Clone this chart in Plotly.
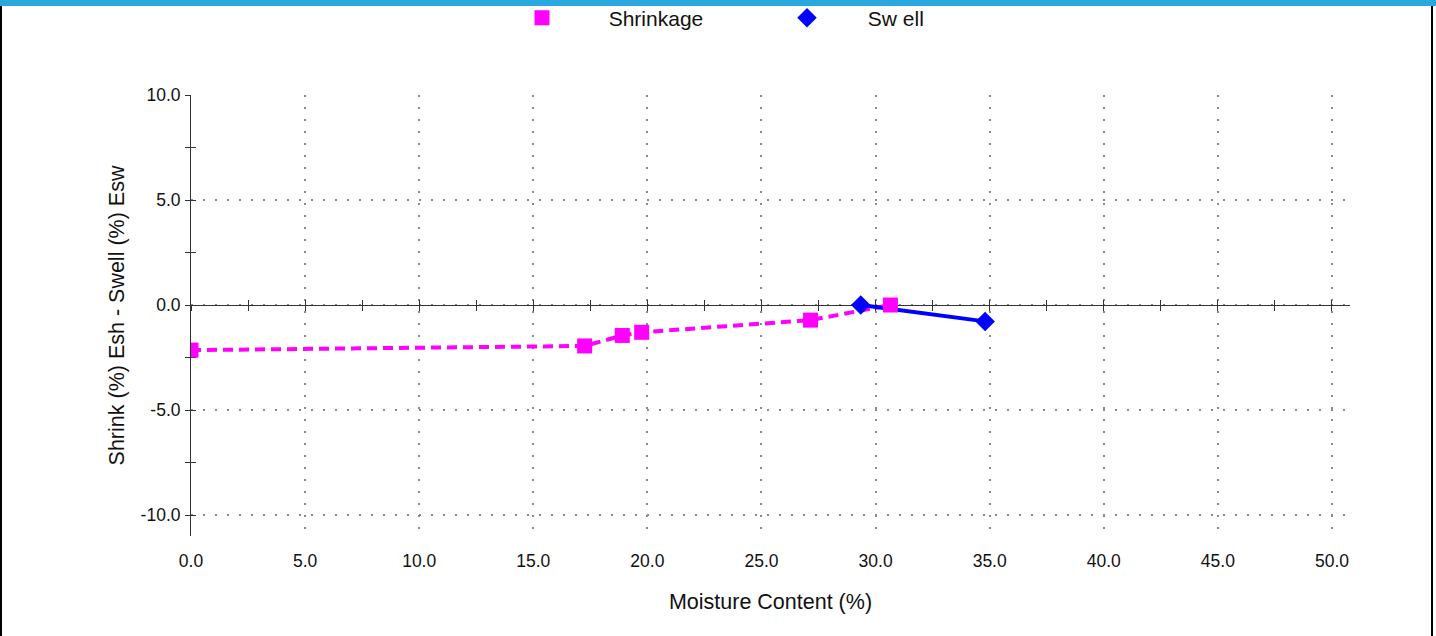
import plotly.graph_objects as go

# ---- data ----
shrink_x = [0.0, 17.25, 18.9, 19.75, 27.15, 30.65]
shrink_y = [-2.15, -1.95, -1.45, -1.3, -0.72, 0.0]
swell_x = [29.35, 34.8]
swell_y = [0.0, -0.78]
x_ticks = [0, 5, 10, 15, 20, 25, 30, 35, 40, 45, 50]
y_ticks = [-10, -5, 0, 5, 10]
series_names = ["        Shrinkage", "       Sw ell"]

X_RANGE = [0, 50.79]
Y_RANGE = [-11, 10]

MAGENTA = "#FF00FF"
BLUE = "#0000FF"
AXIS = "#333333"
GRID = "#8a8a8a"
TXT = "#111111"
FONT = "Liberation Sans, Arial, sans-serif"

W, H = 1436, 636
L, R, T, B = 191, 86, 95, 100
PW, PH = W - L - R, H - T - B


def px_x(p):
    return (p - L) / PW


def px_y(p):
    return (H - B - p) / PH


fig = go.Figure()

# lines first
fig.add_trace(go.Scatter(x=shrink_x, y=shrink_y, mode="lines",
                         line=dict(color=MAGENTA, width=4, dash="10px,6px"),
                         showlegend=False, hoverinfo="skip"))
fig.add_trace(go.Scatter(x=swell_x, y=swell_y, mode="lines",
                         line=dict(color=BLUE, width=4),
                         showlegend=False, hoverinfo="skip"))
# markers on top
fig.add_trace(go.Scatter(x=shrink_x, y=shrink_y, mode="markers", name=series_names[0],
                         marker=dict(symbol="square", size=15, color=MAGENTA)))
fig.add_trace(go.Scatter(x=swell_x, y=swell_y, mode="markers", name=series_names[1],
                         marker=dict(symbol="diamond", size=15, color=BLUE)))

# dummy traces to bind overlay axes
fig.add_trace(go.Scatter(x=[None], y=[None], xaxis="x2", yaxis="y", showlegend=False, hoverinfo="skip"))
fig.add_trace(go.Scatter(x=[None], y=[None], xaxis="x3", yaxis="y", showlegend=False, hoverinfo="skip"))
fig.add_trace(go.Scatter(x=[None], y=[None], xaxis="x", yaxis="y2", showlegend=False, hoverinfo="skip"))

zero_pos = (0 - Y_RANGE[0]) / (Y_RANGE[1] - Y_RANGE[0])

fig.update_layout(
    width=W, height=H,
    margin=dict(l=L, r=R, t=T, b=B),
    paper_bgcolor="white", plot_bgcolor="white",
    font=dict(family=FONT, color=TXT),
    showlegend=True,
    legend=dict(orientation="h", x=px_x(522), xref="paper", xanchor="left",
                y=1 - 18 / H, yref="container", yanchor="middle",
                font=dict(family=FONT, size=21, color=TXT),
                bgcolor="rgba(0,0,0,0)", entrywidth=220, entrywidthmode="pixels"),
    xaxis=dict(range=X_RANGE, tickvals=x_ticks, ticktext=[f"{v:.1f}" for v in x_ticks],
               showline=False, ticks="", zeroline=False,
               showgrid=True, gridcolor=GRID, gridwidth=2, griddash="2px,10px",
               tickfont=dict(size=17.5, color=TXT), ticklabelstandoff=12,
               title=dict(text="Moisture Content (%)", font=dict(size=21.5, color=TXT), standoff=24),
               layer="below traces"),
    xaxis2=dict(range=X_RANGE, overlaying="x", anchor="free", position=zero_pos,
                showline=True, linecolor=AXIS, linewidth=1, ticks="outside", ticklen=5,
                tickcolor=AXIS, dtick=2.5, tick0=0, showticklabels=False, showgrid=False,
                zeroline=False, layer="below traces"),
    xaxis3=dict(range=X_RANGE, overlaying="x", anchor="free", position=zero_pos,
                showline=False, ticks="inside", ticklen=5,
                tickcolor=AXIS, dtick=2.5, tick0=0, showticklabels=False, showgrid=False,
                zeroline=False, layer="below traces"),
    yaxis=dict(range=Y_RANGE, tickvals=y_ticks, ticktext=[f"{v:.1f}" for v in y_ticks],
               showline=True, linecolor=AXIS, linewidth=1, ticks="outside", ticklen=5, tickcolor=AXIS,
               minor=dict(dtick=2.5, tick0=0, ticks="outside", ticklen=5, tickcolor=AXIS, showgrid=False),
               zeroline=False,
               showgrid=True, gridcolor=GRID, gridwidth=2, griddash="2px,10px",
               tickfont=dict(size=17.5, color=TXT), ticklabelstandoff=1,
               title=dict(text="Shrink (%) Esh - Swell (%) Esw", font=dict(size=21.5, color=TXT), standoff=10),
               layer="below traces"),
    yaxis2=dict(range=Y_RANGE, overlaying="y", anchor="x", side="left",
                showline=False, ticks="inside", ticklen=5, tickcolor=AXIS, dtick=2.5, tick0=0,
                showticklabels=False, showgrid=False, zeroline=False, layer="below traces"),
    shapes=[
        dict(type="rect", xref="paper", yref="paper", x0=-0.3, x1=1.3, y0=px_y(6), y1=1.4,
             fillcolor="#29A8E0", line=dict(width=0), layer="above"),
        dict(type="line", xref="paper", yref="paper", x0=px_x(1), x1=px_x(1), y0=px_y(640), y1=px_y(6),
             line=dict(color="#000000", width=2)),
        dict(type="line", xref="paper", yref="paper", x0=px_x(1432), x1=px_x(1432), y0=px_y(640), y1=px_y(6),
             line=dict(color="#000000", width=2)),
    ],
)

fig.write_html("out.html", config={"displayModeBar": False},
               post_script="document.body.style.margin='0px';document.body.style.padding='0px';")
